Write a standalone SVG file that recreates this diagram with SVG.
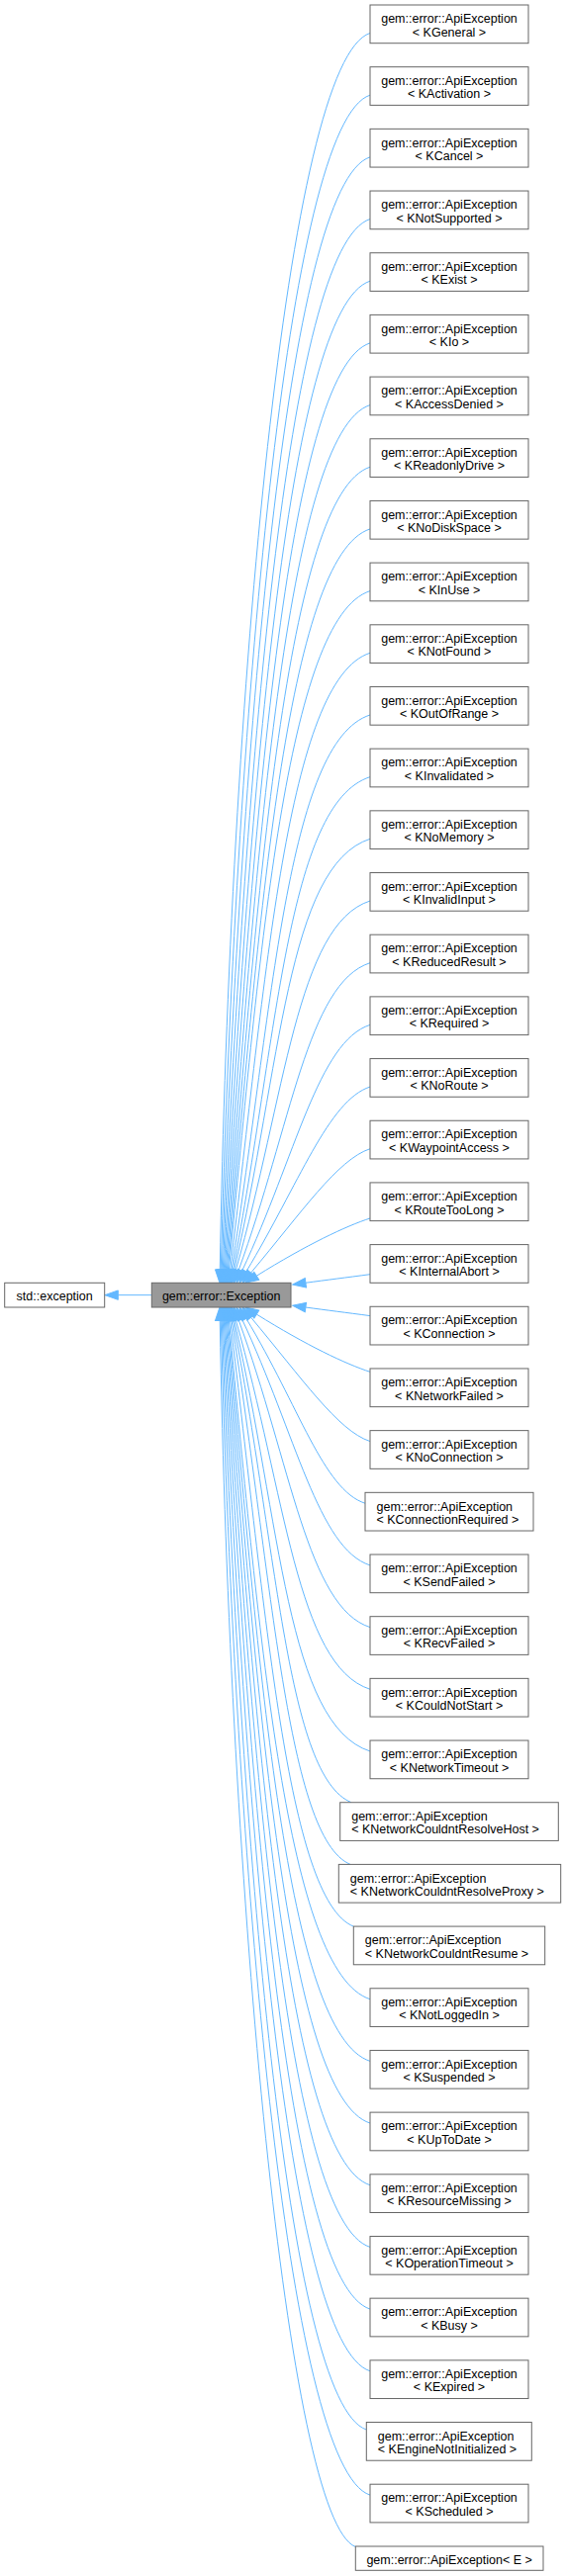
<svg xmlns="http://www.w3.org/2000/svg" width="572" height="2605" viewBox="0 0 572 2605">
<style>
.bx{fill:#ffffff;stroke:#666666;stroke-width:1}
.gr{fill:#999999;stroke:#666666;stroke-width:1}
text{font-family:"Liberation Sans",Arial,Helvetica,sans-serif;font-size:12.5px;fill:#000000}
.c{text-anchor:middle}
.l{text-anchor:start}
</style>
<defs>
<marker id="arr" markerUnits="userSpaceOnUse" markerWidth="14" markerHeight="10" viewBox="0 0 14 10" refX="0" refY="5" orient="auto" overflow="visible">
<path d="M0,0.3 L13.3,5 L0,9.7 z" fill="#63b8ff" stroke="#63b8ff" stroke-width="1"/>
</marker>
</defs>
<rect width="572" height="2605" fill="#ffffff"/>
<g id="edges" fill="none" stroke="#63b8ff" stroke-width="1" marker-end="url(#arr)">
<path d="M153.3,1309.65 L119.3,1309.65"/>
<path d="M374,33.5 C290,60.5 232.37,704.6 222.23,1284"/>
<path d="M374,96.18 C290,123.18 237.68,733.4 223.25,1284"/>
<path d="M374,158.86 C290,185.86 242.48,762.2 224.26,1284.01"/>
<path d="M374,221.54 C290,248.54 246.8,791 225.28,1284.01"/>
<path d="M374,284.22 C290,311.22 250.61,819.8 226.3,1284.02"/>
<path d="M374,346.9 C290,373.9 253.92,848.5 227.31,1284.03"/>
<path d="M374,409.58 C290,436.58 256.79,877.2 228.33,1284.03"/>
<path d="M374,472.26 C290,499.26 259.12,905.9 229.34,1284.04"/>
<path d="M374,534.94 C290,561.94 260.96,934.5 230.36,1284.05"/>
<path d="M374,597.62 C290,624.62 262.27,963.1 231.37,1284.06"/>
<path d="M374,660.3 C290,687.3 268.48,992.1 232.62,1284.1"/>
<path d="M374,722.98 C290,749.98 275.6,1021.4 233.98,1284.16"/>
<path d="M374,785.66 C290,812.66 280.77,1050.5 235.34,1284.24"/>
<path d="M374,848.34 C290,875.34 284.01,1079.4 236.69,1284.34"/>
<path d="M374,911.02 C299.8,934.9 288.65,1108.8 238.27,1284.51"/>
<path d="M374,973.7 C310.8,994 294.27,1138.6 241.05,1284.8"/>
<path d="M374,1036.38 C321.7,1053.2 299.14,1168.4 244.62,1285.25"/>
<path d="M374,1099.06 C332,1112.6 302.15,1197.2 248.85,1285.9"/>
<path d="M374,1161.74 C341.6,1172.2 304.97,1225.8 253.55,1287.11"/>
<path d="M374,1232 C350,1239.7 309.48,1258.9 259.28,1290.25"/>
<path d="M374,1288.7 C350,1291.9 330,1294.4 308.89,1297.27"/>
<path d="M374,1330.6 C350,1327.4 330,1324.9 308.89,1322.03"/>
<path d="M374,1387.3 C350,1379.6 309.48,1360.4 259.28,1329.05"/>
<path d="M374,1457.56 C341.6,1447.1 304.97,1393.5 253.55,1332.19"/>
<path d="M369,1520.24 C327,1506.7 302.15,1422.1 248.85,1333.4"/>
<path d="M374,1582.92 C321.7,1566.1 299.14,1450.9 244.62,1334.05"/>
<path d="M374,1645.6 C310.8,1625.3 294.27,1480.7 241.05,1334.5"/>
<path d="M374,1708.28 C299.8,1684.4 288.65,1510.5 238.27,1334.79"/>
<path d="M374,1770.96 C290,1743.96 284.01,1539.9 236.69,1334.96"/>
<path d="M355,1822.7 C290,1795.7 280.77,1568.8 235.34,1335.06"/>
<path d="M354,1885.4 C290,1858.4 275.6,1597.9 233.98,1335.14"/>
<path d="M357.3,1948.1 C290,1921.1 268.48,1627.2 232.62,1335.2"/>
<path d="M374,2021.68 C290,1994.68 262.27,1656.2 231.37,1335.24"/>
<path d="M374,2084.36 C290,2057.36 260.96,1684.8 230.36,1335.25"/>
<path d="M374,2147.04 C290,2120.04 259.12,1713.4 229.34,1335.26"/>
<path d="M374,2209.72 C290,2182.72 256.79,1742.1 228.33,1335.27"/>
<path d="M374,2272.4 C290,2245.4 253.92,1770.8 227.31,1335.27"/>
<path d="M374,2335.08 C290,2308.08 250.61,1799.5 226.3,1335.28"/>
<path d="M374,2397.76 C290,2370.76 246.8,1828.3 225.28,1335.29"/>
<path d="M370.3,2457 C290,2430 242.48,1857.1 224.26,1335.29"/>
<path d="M374,2523.12 C290,2496.12 237.68,1885.9 223.25,1335.3"/>
<path d="M359.3,2575.5 C290,2548 232.37,1914.7 222.23,1335.3"/>
</g>
<g id="node-std-exception" transform="translate(4.7,1297.3)"><rect class="bx" width="101" height="24.7"/><text class="c" x="50.5" y="17.9">std::exception</text></g>
<g id="node-exception" transform="translate(153.3,1297.3)"><rect class="gr" width="140.7" height="24.7"/><text class="c" x="70.35" y="17.9">gem::error::Exception</text></g>
<g id="node-KGeneral" transform="translate(374,5)"><rect class="bx" width="160" height="38.7"/><text class="c" x="80" y="18.2">gem::error::ApiException</text><text class="c" x="80" y="31.6">&lt; KGeneral &gt;</text></g>
<g id="node-KActivation" transform="translate(374,67.68)"><rect class="bx" width="160" height="38.7"/><text class="c" x="80" y="18.2">gem::error::ApiException</text><text class="c" x="80" y="31.6">&lt; KActivation &gt;</text></g>
<g id="node-KCancel" transform="translate(374,130.36)"><rect class="bx" width="160" height="38.7"/><text class="c" x="80" y="18.2">gem::error::ApiException</text><text class="c" x="80" y="31.6">&lt; KCancel &gt;</text></g>
<g id="node-KNotSupported" transform="translate(374,193.04)"><rect class="bx" width="160" height="38.7"/><text class="c" x="80" y="18.2">gem::error::ApiException</text><text class="c" x="80" y="31.6">&lt; KNotSupported &gt;</text></g>
<g id="node-KExist" transform="translate(374,255.72)"><rect class="bx" width="160" height="38.7"/><text class="c" x="80" y="18.2">gem::error::ApiException</text><text class="c" x="80" y="31.6">&lt; KExist &gt;</text></g>
<g id="node-KIo" transform="translate(374,318.4)"><rect class="bx" width="160" height="38.7"/><text class="c" x="80" y="18.2">gem::error::ApiException</text><text class="c" x="80" y="31.6">&lt; KIo &gt;</text></g>
<g id="node-KAccessDenied" transform="translate(374,381.08)"><rect class="bx" width="160" height="38.7"/><text class="c" x="80" y="18.2">gem::error::ApiException</text><text class="c" x="80" y="31.6">&lt; KAccessDenied &gt;</text></g>
<g id="node-KReadonlyDrive" transform="translate(374,443.76)"><rect class="bx" width="160" height="38.7"/><text class="c" x="80" y="18.2">gem::error::ApiException</text><text class="c" x="80" y="31.6">&lt; KReadonlyDrive &gt;</text></g>
<g id="node-KNoDiskSpace" transform="translate(374,506.44)"><rect class="bx" width="160" height="38.7"/><text class="c" x="80" y="18.2">gem::error::ApiException</text><text class="c" x="80" y="31.6">&lt; KNoDiskSpace &gt;</text></g>
<g id="node-KInUse" transform="translate(374,569.12)"><rect class="bx" width="160" height="38.7"/><text class="c" x="80" y="18.2">gem::error::ApiException</text><text class="c" x="80" y="31.6">&lt; KInUse &gt;</text></g>
<g id="node-KNotFound" transform="translate(374,631.8)"><rect class="bx" width="160" height="38.7"/><text class="c" x="80" y="18.2">gem::error::ApiException</text><text class="c" x="80" y="31.6">&lt; KNotFound &gt;</text></g>
<g id="node-KOutOfRange" transform="translate(374,694.48)"><rect class="bx" width="160" height="38.7"/><text class="c" x="80" y="18.2">gem::error::ApiException</text><text class="c" x="80" y="31.6">&lt; KOutOfRange &gt;</text></g>
<g id="node-KInvalidated" transform="translate(374,757.16)"><rect class="bx" width="160" height="38.7"/><text class="c" x="80" y="18.2">gem::error::ApiException</text><text class="c" x="80" y="31.6">&lt; KInvalidated &gt;</text></g>
<g id="node-KNoMemory" transform="translate(374,819.84)"><rect class="bx" width="160" height="38.7"/><text class="c" x="80" y="18.2">gem::error::ApiException</text><text class="c" x="80" y="31.6">&lt; KNoMemory &gt;</text></g>
<g id="node-KInvalidInput" transform="translate(374,882.52)"><rect class="bx" width="160" height="38.7"/><text class="c" x="80" y="18.2">gem::error::ApiException</text><text class="c" x="80" y="31.6">&lt; KInvalidInput &gt;</text></g>
<g id="node-KReducedResult" transform="translate(374,945.2)"><rect class="bx" width="160" height="38.7"/><text class="c" x="80" y="18.2">gem::error::ApiException</text><text class="c" x="80" y="31.6">&lt; KReducedResult &gt;</text></g>
<g id="node-KRequired" transform="translate(374,1007.88)"><rect class="bx" width="160" height="38.7"/><text class="c" x="80" y="18.2">gem::error::ApiException</text><text class="c" x="80" y="31.6">&lt; KRequired &gt;</text></g>
<g id="node-KNoRoute" transform="translate(374,1070.56)"><rect class="bx" width="160" height="38.7"/><text class="c" x="80" y="18.2">gem::error::ApiException</text><text class="c" x="80" y="31.6">&lt; KNoRoute &gt;</text></g>
<g id="node-KWaypointAccess" transform="translate(374,1133.24)"><rect class="bx" width="160" height="38.7"/><text class="c" x="80" y="18.2">gem::error::ApiException</text><text class="c" x="80" y="31.6">&lt; KWaypointAccess &gt;</text></g>
<g id="node-KRouteTooLong" transform="translate(374,1195.92)"><rect class="bx" width="160" height="38.7"/><text class="c" x="80" y="18.2">gem::error::ApiException</text><text class="c" x="80" y="31.6">&lt; KRouteTooLong &gt;</text></g>
<g id="node-KInternalAbort" transform="translate(374,1258.6)"><rect class="bx" width="160" height="38.7"/><text class="c" x="80" y="18.2">gem::error::ApiException</text><text class="c" x="80" y="31.6">&lt; KInternalAbort &gt;</text></g>
<g id="node-KConnection" transform="translate(374,1321.28)"><rect class="bx" width="160" height="38.7"/><text class="c" x="80" y="18.2">gem::error::ApiException</text><text class="c" x="80" y="31.6">&lt; KConnection &gt;</text></g>
<g id="node-KNetworkFailed" transform="translate(374,1383.96)"><rect class="bx" width="160" height="38.7"/><text class="c" x="80" y="18.2">gem::error::ApiException</text><text class="c" x="80" y="31.6">&lt; KNetworkFailed &gt;</text></g>
<g id="node-KNoConnection" transform="translate(374,1446.64)"><rect class="bx" width="160" height="38.7"/><text class="c" x="80" y="18.2">gem::error::ApiException</text><text class="c" x="80" y="31.6">&lt; KNoConnection &gt;</text></g>
<g id="node-KConnectionRequired" transform="translate(369,1509.32)"><rect class="bx" width="170" height="38.7"/><text class="l" x="11.5" y="18.2">gem::error::ApiException</text><text class="l" x="11.5" y="31.6">&lt; KConnectionRequired &gt;</text></g>
<g id="node-KSendFailed" transform="translate(374,1572)"><rect class="bx" width="160" height="38.7"/><text class="c" x="80" y="18.2">gem::error::ApiException</text><text class="c" x="80" y="31.6">&lt; KSendFailed &gt;</text></g>
<g id="node-KRecvFailed" transform="translate(374,1634.68)"><rect class="bx" width="160" height="38.7"/><text class="c" x="80" y="18.2">gem::error::ApiException</text><text class="c" x="80" y="31.6">&lt; KRecvFailed &gt;</text></g>
<g id="node-KCouldNotStart" transform="translate(374,1697.36)"><rect class="bx" width="160" height="38.7"/><text class="c" x="80" y="18.2">gem::error::ApiException</text><text class="c" x="80" y="31.6">&lt; KCouldNotStart &gt;</text></g>
<g id="node-KNetworkTimeout" transform="translate(374,1760.04)"><rect class="bx" width="160" height="38.7"/><text class="c" x="80" y="18.2">gem::error::ApiException</text><text class="c" x="80" y="31.6">&lt; KNetworkTimeout &gt;</text></g>
<g id="node-KNetworkCouldntResolveHost" transform="translate(343.7,1822.72)"><rect class="bx" width="220.6" height="38.7"/><text class="l" x="11.5" y="18.2">gem::error::ApiException</text><text class="l" x="11.5" y="31.6">&lt; KNetworkCouldntResolveHost &gt;</text></g>
<g id="node-KNetworkCouldntResolveProxy" transform="translate(342.3,1885.4)"><rect class="bx" width="224.4" height="38.7"/><text class="l" x="11.5" y="18.2">gem::error::ApiException</text><text class="l" x="11.5" y="31.6">&lt; KNetworkCouldntResolveProxy &gt;</text></g>
<g id="node-KNetworkCouldntResume" transform="translate(357.3,1948.08)"><rect class="bx" width="193.4" height="38.7"/><text class="l" x="11.5" y="18.2">gem::error::ApiException</text><text class="l" x="11.5" y="31.6">&lt; KNetworkCouldntResume &gt;</text></g>
<g id="node-KNotLoggedIn" transform="translate(374,2010.76)"><rect class="bx" width="160" height="38.7"/><text class="c" x="80" y="18.2">gem::error::ApiException</text><text class="c" x="80" y="31.6">&lt; KNotLoggedIn &gt;</text></g>
<g id="node-KSuspended" transform="translate(374,2073.44)"><rect class="bx" width="160" height="38.7"/><text class="c" x="80" y="18.2">gem::error::ApiException</text><text class="c" x="80" y="31.6">&lt; KSuspended &gt;</text></g>
<g id="node-KUpToDate" transform="translate(374,2136.12)"><rect class="bx" width="160" height="38.7"/><text class="c" x="80" y="18.2">gem::error::ApiException</text><text class="c" x="80" y="31.6">&lt; KUpToDate &gt;</text></g>
<g id="node-KResourceMissing" transform="translate(374,2198.8)"><rect class="bx" width="160" height="38.7"/><text class="c" x="80" y="18.2">gem::error::ApiException</text><text class="c" x="80" y="31.6">&lt; KResourceMissing &gt;</text></g>
<g id="node-KOperationTimeout" transform="translate(374,2261.48)"><rect class="bx" width="160" height="38.7"/><text class="c" x="80" y="18.2">gem::error::ApiException</text><text class="c" x="80" y="31.6">&lt; KOperationTimeout &gt;</text></g>
<g id="node-KBusy" transform="translate(374,2324.16)"><rect class="bx" width="160" height="38.7"/><text class="c" x="80" y="18.2">gem::error::ApiException</text><text class="c" x="80" y="31.6">&lt; KBusy &gt;</text></g>
<g id="node-KExpired" transform="translate(374,2386.84)"><rect class="bx" width="160" height="38.7"/><text class="c" x="80" y="18.2">gem::error::ApiException</text><text class="c" x="80" y="31.6">&lt; KExpired &gt;</text></g>
<g id="node-KEngineNotInitialized" transform="translate(370.3,2449.52)"><rect class="bx" width="167" height="38.7"/><text class="l" x="11.5" y="18.2">gem::error::ApiException</text><text class="l" x="11.5" y="31.6">&lt; KEngineNotInitialized &gt;</text></g>
<g id="node-KScheduled" transform="translate(374,2512.2)"><rect class="bx" width="160" height="38.7"/><text class="c" x="80" y="18.2">gem::error::ApiException</text><text class="c" x="80" y="31.6">&lt; KScheduled &gt;</text></g>
<g id="node-ApiException-E" transform="translate(359.3,2575)"><rect class="bx" width="189.7" height="24.3"/><text class="c" x="94.85" y="17.5">gem::error::ApiException&lt; E &gt;</text></g>
</svg>
